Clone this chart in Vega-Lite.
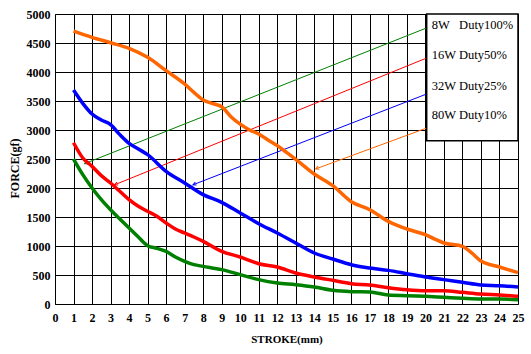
{
  "$schema": "https://vega.github.io/schema/vega-lite/v6.json",
  "width": 463,
  "height": 290,
  "autosize": "none",
  "padding": {"left": 55, "top": 14, "right": 13, "bottom": 50},
  "background": "white",
  "config": {
    "view": {"stroke": null},
    "axis": {
      "grid": true, "gridColor": "black", "gridOpacity": 1, "gridWidth": 1,
      "domainColor": "black", "domainWidth": 1, "ticks": false,
      "labelFont": "Liberation Serif", "labelFontWeight": "bold", "labelFontSize": 12, "labelColor": "black",
      "titleFont": "Liberation Serif", "titleFontWeight": "bold", "titleFontSize": 11, "titleColor": "black"
    }
  },
  "datasets": {
    "curves": [
      {"series": "8W", "x": 1, "y": 2500}, {"series": "8W", "x": 1.5, "y": 2230}, {"series": "8W", "x": 2, "y": 2000},
      {"series": "8W", "x": 2.5, "y": 1800}, {"series": "8W", "x": 3, "y": 1626}, {"series": "8W", "x": 3.5, "y": 1465},
      {"series": "8W", "x": 4, "y": 1310}, {"series": "8W", "x": 4.5, "y": 1155}, {"series": "8W", "x": 5, "y": 1006},
      {"series": "8W", "x": 5.5, "y": 960}, {"series": "8W", "x": 6, "y": 908}, {"series": "8W", "x": 6.5, "y": 810},
      {"series": "8W", "x": 7, "y": 736}, {"series": "8W", "x": 7.5, "y": 678}, {"series": "8W", "x": 8, "y": 649},
      {"series": "8W", "x": 9, "y": 592}, {"series": "8W", "x": 10, "y": 506}, {"series": "8W", "x": 11, "y": 420},
      {"series": "8W", "x": 12, "y": 362}, {"series": "8W", "x": 13, "y": 333}, {"series": "8W", "x": 14, "y": 293},
      {"series": "8W", "x": 15, "y": 236}, {"series": "8W", "x": 16, "y": 213}, {"series": "8W", "x": 17, "y": 207},
      {"series": "8W", "x": 18, "y": 155}, {"series": "8W", "x": 19, "y": 144}, {"series": "8W", "x": 20, "y": 132},
      {"series": "8W", "x": 21, "y": 115}, {"series": "8W", "x": 22, "y": 98}, {"series": "8W", "x": 23, "y": 86},
      {"series": "8W", "x": 24, "y": 86}, {"series": "8W", "x": 25, "y": 75},

      {"series": "16W", "x": 1, "y": 2780}, {"series": "16W", "x": 1.5, "y": 2517}, {"series": "16W", "x": 2, "y": 2373},
      {"series": "16W", "x": 2.5, "y": 2213}, {"series": "16W", "x": 3, "y": 2086}, {"series": "16W", "x": 3.5, "y": 1943},
      {"series": "16W", "x": 4, "y": 1799}, {"series": "16W", "x": 4.5, "y": 1684}, {"series": "16W", "x": 5, "y": 1598},
      {"series": "16W", "x": 5.5, "y": 1512}, {"series": "16W", "x": 6, "y": 1397}, {"series": "16W", "x": 6.5, "y": 1293},
      {"series": "16W", "x": 7, "y": 1224}, {"series": "16W", "x": 7.5, "y": 1155}, {"series": "16W", "x": 8, "y": 1080},
      {"series": "16W", "x": 9, "y": 908}, {"series": "16W", "x": 10, "y": 810}, {"series": "16W", "x": 11, "y": 695},
      {"series": "16W", "x": 12, "y": 638}, {"series": "16W", "x": 13, "y": 534}, {"series": "16W", "x": 14, "y": 466},
      {"series": "16W", "x": 15, "y": 408}, {"series": "16W", "x": 16, "y": 351}, {"series": "16W", "x": 17, "y": 328},
      {"series": "16W", "x": 18, "y": 282}, {"series": "16W", "x": 19, "y": 247}, {"series": "16W", "x": 20, "y": 230},
      {"series": "16W", "x": 21, "y": 230}, {"series": "16W", "x": 22, "y": 201}, {"series": "16W", "x": 23, "y": 172},
      {"series": "16W", "x": 24, "y": 155}, {"series": "16W", "x": 25, "y": 132},

      {"series": "32W", "x": 1, "y": 3690}, {"series": "32W", "x": 1.5, "y": 3460}, {"series": "32W", "x": 2, "y": 3276},
      {"series": "32W", "x": 2.5, "y": 3172}, {"series": "32W", "x": 3, "y": 3092}, {"series": "32W", "x": 3.5, "y": 2920},
      {"series": "32W", "x": 4, "y": 2770}, {"series": "32W", "x": 4.5, "y": 2672}, {"series": "32W", "x": 5, "y": 2575},
      {"series": "32W", "x": 6, "y": 2287}, {"series": "32W", "x": 7, "y": 2086}, {"series": "32W", "x": 8, "y": 1885},
      {"series": "32W", "x": 9, "y": 1753}, {"series": "32W", "x": 10, "y": 1569}, {"series": "32W", "x": 11, "y": 1385},
      {"series": "32W", "x": 12, "y": 1224}, {"series": "32W", "x": 13, "y": 1052}, {"series": "32W", "x": 14, "y": 879},
      {"series": "32W", "x": 15, "y": 776}, {"series": "32W", "x": 16, "y": 678}, {"series": "32W", "x": 17, "y": 621},
      {"series": "32W", "x": 18, "y": 580}, {"series": "32W", "x": 19, "y": 523}, {"series": "32W", "x": 20, "y": 466},
      {"series": "32W", "x": 21, "y": 420}, {"series": "32W", "x": 22, "y": 374}, {"series": "32W", "x": 23, "y": 328},
      {"series": "32W", "x": 24, "y": 316}, {"series": "32W", "x": 25, "y": 293},

      {"series": "80W", "x": 1, "y": 4705}, {"series": "80W", "x": 2, "y": 4598}, {"series": "80W", "x": 3, "y": 4505},
      {"series": "80W", "x": 4, "y": 4408}, {"series": "80W", "x": 5, "y": 4253}, {"series": "80W", "x": 6, "y": 4023},
      {"series": "80W", "x": 7, "y": 3793}, {"series": "80W", "x": 7.5, "y": 3649}, {"series": "80W", "x": 8, "y": 3517},
      {"series": "80W", "x": 8.6, "y": 3448}, {"series": "80W", "x": 9, "y": 3400}, {"series": "80W", "x": 9.5, "y": 3230},
      {"series": "80W", "x": 10, "y": 3100}, {"series": "80W", "x": 10.5, "y": 3000}, {"series": "80W", "x": 11, "y": 2931},
      {"series": "80W", "x": 11.5, "y": 2828}, {"series": "80W", "x": 12, "y": 2730}, {"series": "80W", "x": 12.5, "y": 2615},
      {"series": "80W", "x": 13, "y": 2495}, {"series": "80W", "x": 14, "y": 2241}, {"series": "80W", "x": 15, "y": 2040},
      {"series": "80W", "x": 16, "y": 1764}, {"series": "80W", "x": 17, "y": 1626}, {"series": "80W", "x": 18, "y": 1425},
      {"series": "80W", "x": 19, "y": 1293}, {"series": "80W", "x": 20, "y": 1195}, {"series": "80W", "x": 20.5, "y": 1120},
      {"series": "80W", "x": 21, "y": 1052}, {"series": "80W", "x": 22, "y": 994}, {"series": "80W", "x": 22.5, "y": 880},
      {"series": "80W", "x": 23, "y": 741}, {"series": "80W", "x": 24, "y": 638}, {"series": "80W", "x": 25, "y": 540}
    ],
    "pointers": [
      {"series": "8W", "x": 1.6, "y": 2420, "x2": 20.07, "y2": 4760},
      {"series": "16W", "x": 3.22, "y": 2055, "x2": 20.07, "y2": 4241},
      {"series": "32W", "x": 7.45, "y": 2055, "x2": 20.07, "y2": 3621},
      {"series": "80W", "x": 14.08, "y": 2330, "x2": 20.07, "y2": 3034}
    ],
    "legendbox": [{"x": 20.07, "x2": 25, "y": 5000, "y2": 2816}],
    "legendtext": [
      {"label": "8W\u00a0\u00a0\u00a0Duty100%", "x": 20.34, "y": 4807},
      {"label": "16W Duty50%", "x": 20.34, "y": 4290},
      {"label": "32W Duty25%", "x": 20.34, "y": 3764},
      {"label": "80W Duty10%", "x": 20.34, "y": 3252}
    ]
  },
  "encoding": {
    "x": {"field": "x", "type": "quantitative", "scale": {"domain": [0, 25], "nice": false},
          "axis": {"values": [0,1,2,3,4,5,6,7,8,9,10,11,12,13,14,15,16,17,18,19,20,21,22,23,24,25], "title": "STROKE(mm)", "labelPadding": 8, "titlePadding": 10, "format": "d", "labelFlush": false, "labelOverlap": false}},
    "y": {"field": "y", "type": "quantitative", "scale": {"domain": [0, 5000], "nice": false},
          "axis": {"values": [0,500,1000,1500,2000,2500,3000,3500,4000,4500,5000], "title": "FORCE(gf)", "titleFontSize": 12, "titleY": 154, "labelPadding": 5, "titlePadding": 5, "format": "d", "labelFlush": false, "labelOverlap": false}}
  },
  "layer": [
    {
      "data": {"name": "pointers"},
      "mark": {"type": "rule", "strokeWidth": 1},
      "encoding": {
        "x2": {"field": "x2"},
        "y2": {"field": "y2"},
        "color": {"field": "series", "type": "nominal", "legend": null,
                  "scale": {"domain": ["8W", "16W", "32W", "80W"], "range": ["#008000", "#FF0000", "#0000FF", "#FF6600"]}}
      }
    },
    {
      "data": {"name": "pointers"},
      "mark": {"type": "point", "shape": "M-0.45,0.9L0,0L0.45,0.9", "filled": false, "strokeWidth": 1, "size": 50, "angle": 248, "opacity": 1},
      "encoding": {
        "color": {"field": "series", "type": "nominal", "legend": null}
      }
    },
    {
      "data": {"name": "curves"},
      "mark": {"type": "line", "strokeWidth": 3.5, "interpolate": "monotone"},
      "encoding": {
        "color": {"field": "series", "type": "nominal", "legend": null}
      }
    },
    {
      "data": {"name": "legendbox"},
      "mark": {"type": "rect", "fill": "white", "stroke": "black", "strokeWidth": 1.5},
      "encoding": {
        "x2": {"field": "x2"},
        "y2": {"field": "y2"}
      }
    },
    {
      "data": {"name": "legendtext"},
      "mark": {"type": "text", "align": "left", "baseline": "middle", "font": "Liberation Serif", "fontSize": 12.5, "color": "black"},
      "encoding": {
        "text": {"field": "label"}
      }
    }
  ]
}
